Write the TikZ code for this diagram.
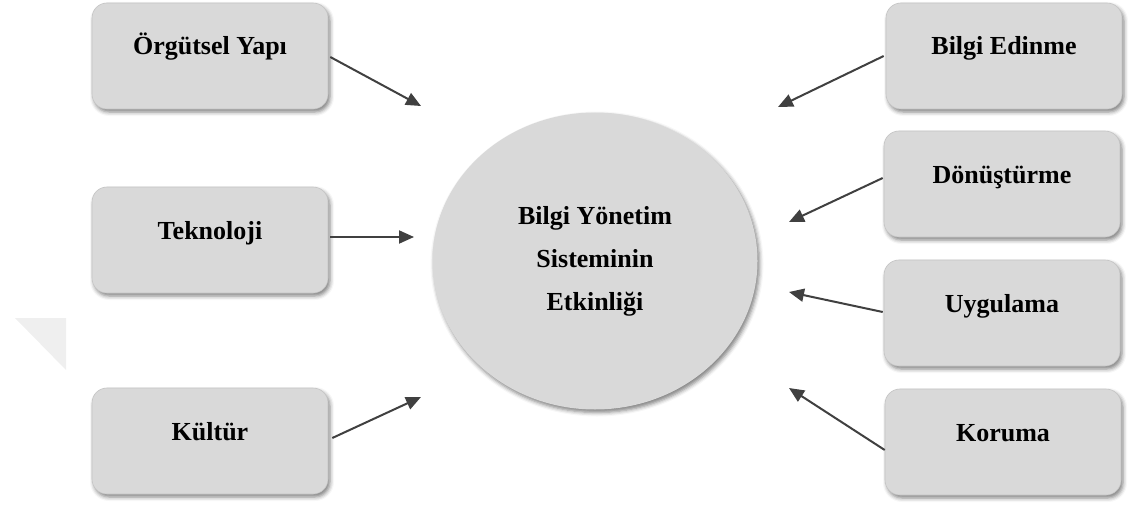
\documentclass[tikz,border=0pt]{standalone}
\usepackage{fontspec}
\setmainfont{Liberation Serif}
\usetikzlibrary{shapes.geometric,shadows.blur,arrows.meta,calc}
\definecolor{boxfill}{HTML}{D9D9D9}
\definecolor{boxline}{HTML}{C4C4C4}
\definecolor{arrowcol}{HTML}{404040}
\definecolor{markgray}{HTML}{EFEFEF}
\tikzset{
  soft/.style={blur shadow={shadow xshift=2pt, shadow yshift=-3pt,
      shadow blur radius=4pt, shadow opacity=50}},
  factor/.style={draw=boxline, line width=0.6pt, fill=boxfill, soft,
      rounded corners=15pt, minimum width=236pt, minimum height=106pt,
      inner sep=0pt, text height=17pt, text depth=19pt,
      font=\fontsize{26}{30}\selectfont\bfseries},
  core/.style={ellipse, fill=boxfill, soft, minimum width=325pt,
      minimum height=297pt, inner sep=0pt, align=center,
      font=\fontsize{26}{43}\selectfont\bfseries},
  link/.style={draw=arrowcol, line width=2pt,
      -{Triangle[length=15pt,width=13pt]}},
}
\begin{document}
\begin{tikzpicture}[x=1pt,y=-1pt]
\useasboundingbox (0,0) rectangle (1134,508);

% faint corner mark at the left margin
\fill[markgray] (15,318) -- (66,318) -- (66,370) -- cycle;

% central effectiveness node
\node[core] (bys) at (595,261) {Bilgi Yönetim\\Sisteminin\\Etkinliği};

% organisational factors (left)
\node[factor] (org) at (210,56)  {Örgütsel Yapı};
\node[factor] (tek) at (210,240) {Teknoloji};
\node[factor] (kul) at (210,441) {Kültür};

% knowledge processes (right)
\node[factor] (edi) at (1004,56)  {Bilgi Edinme};
\node[factor] (don) at (1002,184) {Dönüştürme};
\node[factor] (uyg) at (1002,313) {Uygulama};
\node[factor] (kor) at (1003,442) {Koruma};

% arrow tips, stopping short of the ellipse
\coordinate (t-org) at (421,106);
\coordinate (t-tek) at (414,237);
\coordinate (t-kul) at (421,397);
\coordinate (t-edi) at (778,107);
\coordinate (t-don) at (789,222);
\coordinate (t-uyg) at (789,292);
\coordinate (t-kor) at (789,388);

\draw[link] ($(org.east)+(2,1)$)  -- (t-org);
\draw[link] ($(tek.east)+(2,-3)$) -- (t-tek);
\draw[link] ($(kul.east)+(4,-3)$) -- (t-kul);
\draw[link] ($(edi.west)+(-2,0)$) -- (t-edi);
\draw[link] ($(don.west)+(-1,-6)$) -- (t-don);
\draw[link] ($(uyg.west)+(-1,-1)$) -- (t-uyg);
\draw[link] ($(kor.west)+(0,8)$)  -- (t-kor);
\end{tikzpicture}
\end{document}
